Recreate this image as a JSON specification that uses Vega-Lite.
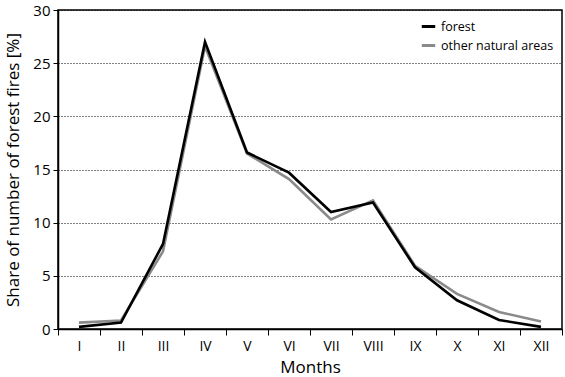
{
  "$schema": "https://vega.github.io/schema/vega-lite/v6.json",
  "width": 504,
  "height": 319,
  "autosize": {"type": "none"},
  "padding": {"left": 58, "top": 10, "right": 3, "bottom": 48},
  "background": "white",
  "config": {
    "font": "Open Sans",
    "view": {"stroke": "black", "strokeWidth": 1.5}
  },
  "data": {
    "values": [
      {"month": "I", "series": "other natural areas", "share": 0.6},
      {"month": "II", "series": "other natural areas", "share": 0.8},
      {"month": "III", "series": "other natural areas", "share": 7.3},
      {"month": "IV", "series": "other natural areas", "share": 26.6},
      {"month": "V", "series": "other natural areas", "share": 16.5},
      {"month": "VI", "series": "other natural areas", "share": 14.1},
      {"month": "VII", "series": "other natural areas", "share": 10.3},
      {"month": "VIII", "series": "other natural areas", "share": 12.1},
      {"month": "IX", "series": "other natural areas", "share": 5.95},
      {"month": "X", "series": "other natural areas", "share": 3.3},
      {"month": "XI", "series": "other natural areas", "share": 1.6},
      {"month": "XII", "series": "other natural areas", "share": 0.7},
      {"month": "I", "series": "forest", "share": 0.2},
      {"month": "II", "series": "forest", "share": 0.6},
      {"month": "III", "series": "forest", "share": 8.0},
      {"month": "IV", "series": "forest", "share": 27.0},
      {"month": "V", "series": "forest", "share": 16.6},
      {"month": "VI", "series": "forest", "share": 14.7},
      {"month": "VII", "series": "forest", "share": 11.0},
      {"month": "VIII", "series": "forest", "share": 11.9},
      {"month": "IX", "series": "forest", "share": 5.8},
      {"month": "X", "series": "forest", "share": 2.7},
      {"month": "XI", "series": "forest", "share": 0.85},
      {"month": "XII", "series": "forest", "share": 0.2}
    ]
  },
  "mark": {"type": "line", "strokeWidth": 2.6, "strokeJoin": "miter"},
  "encoding": {
    "x": {
      "field": "month",
      "type": "ordinal",
      "bandPosition": 0.5,
      "sort": ["I", "II", "III", "IV", "V", "VI", "VII", "VIII", "IX", "X", "XI", "XII"],
      "scale": {"type": "band", "paddingInner": 0, "paddingOuter": 0},
      "axis": {
        "title": "Months",
        "titleFontSize": 17,
        "titleFontWeight": "normal",
        "titleColor": "black",
        "titlePadding": 6,
        "labelAngle": 0,
        "labelFontSize": 14,
        "labelColor": "black",
        "labelPadding": 4,
        "tickBand": "extent",
        "tickColor": "black",
        "tickSize": 6,
        "domainColor": "black",
        "domainWidth": 1.5,
        "grid": false
      }
    },
    "y": {
      "field": "share",
      "type": "quantitative",
      "scale": {"domain": [0, 30], "nice": false},
      "axis": {
        "title": "Share of number of forest fires [%]",
        "titleFontSize": 17,
        "titleFontWeight": "normal",
        "titleColor": "black",
        "titlePadding": 10,
        "values": [0, 5, 10, 15, 20, 25, 30],
        "labelFontSize": 15,
        "labelColor": "black",
        "labelPadding": 3,
        "tickColor": "black",
        "tickSize": 5,
        "domainColor": "black",
        "domainWidth": 1.5,
        "grid": true,
        "gridColor": "black",
        "gridDash": [1, 2],
        "gridWidth": 1
      }
    },
    "color": {
      "field": "series",
      "type": "nominal",
      "scale": {"domain": ["forest", "other natural areas"], "range": ["#000000", "#8a8a8a"]},
      "legend": {
        "title": null,
        "orient": "top-right",
        "offset": 8,
        "symbolType": "stroke",
        "symbolStrokeWidth": 3,
        "symbolSize": 180,
        "labelFontSize": 12.5,
        "labelColor": "black",
        "rowPadding": 4
      }
    }
  }
}
